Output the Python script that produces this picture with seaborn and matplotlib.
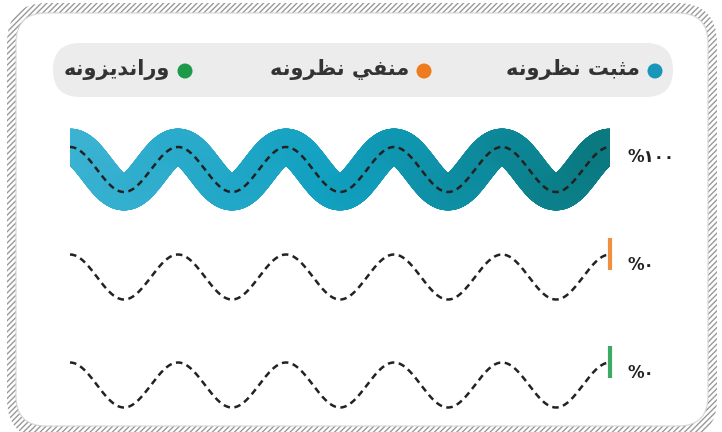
import seaborn as sns
import matplotlib.pyplot as plt
import numpy as np
from matplotlib.patches import FancyBboxPatch, Circle, Rectangle
from matplotlib.collections import LineCollection
from matplotlib.colors import LinearSegmentedColormap

# data
categories = ["مثبت نظرونه", "منفي نظرونه", "وراندیزونه"]
values = [100, 0, 0]
colors = ["#1796ba", "#ef7b1f", "#1c9a4a"]
band_colors = ["#3db3d3", "#11a0c0", "#0a7980"]

# minimal arabic shaping (matplotlib has no text shaping)
FORMS = {
    "ا": ("\uFE8D", "\uFE8E", None, None),
    "ب": ("\uFE8F", "\uFE90", "\uFE91", "\uFE92"),
    "ت": ("\uFE95", "\uFE96", "\uFE97", "\uFE98"),
    "ث": ("\uFE99", "\uFE9A", "\uFE9B", "\uFE9C"),
    "د": ("\uFEA9", "\uFEAA", None, None),
    "ر": ("\uFEAD", "\uFEAE", None, None),
    "ز": ("\uFEAF", "\uFEB0", None, None),
    "ظ": ("\uFEC5", "\uFEC6", "\uFEC7", "\uFEC8"),
    "ف": ("\uFED1", "\uFED2", "\uFED3", "\uFED4"),
    "م": ("\uFEE1", "\uFEE2", "\uFEE3", "\uFEE4"),
    "ن": ("\uFEE5", "\uFEE6", "\uFEE7", "\uFEE8"),
    "ه": ("\uFEE9", "\uFEEA", "\uFEEB", "\uFEEC"),
    "و": ("\uFEED", "\uFEEE", None, None),
    "ي": ("\uFEF1", "\uFEF2", "\uFEF3", "\uFEF4"),
    "ی": ("\uFBFC", "\uFBFD", "\uFBFE", "\uFBFF"),
}


def shape(text):
    out = []
    for i, ch in enumerate(text):
        if ch not in FORMS:
            out.append(ch)
            continue
        prev = text[i - 1] if i > 0 else ""
        nxt = text[i + 1] if i + 1 < len(text) else ""
        joins_prev = prev in FORMS and FORMS[prev][2] is not None
        joins_next = nxt in FORMS and FORMS[ch][2] is not None
        iso, fin, ini, med = FORMS[ch]
        if joins_prev and joins_next:
            out.append(med)
        elif joins_prev:
            out.append(fin)
        elif joins_next:
            out.append(ini)
        else:
            out.append(iso)
    return "".join(reversed(out))


def arabic_digits(n):
    return "".join(chr(0x0660 + int(d)) for d in str(n))


sns.set_theme(style="white")
plt.rcParams["font.family"] = ["DejaVu Sans"]

fig = plt.figure(figsize=(7.22, 4.32), dpi=100)
ax = fig.add_axes([0, 0, 1, 1])
ax.set_xlim(0, 722)
ax.set_ylim(432, 0)
ax.axis("off")

# frame with hatched border
outer = FancyBboxPatch((7, 3), 710, 436, boxstyle="round,pad=0,rounding_size=40",
                       facecolor="white", edgecolor="#9a9a9a", hatch="//////",
                       linewidth=0, zorder=0)
ax.add_patch(outer)
inner = FancyBboxPatch((16, 13), 692, 413, boxstyle="round,pad=0,rounding_size=30",
                       facecolor="white", edgecolor="#d6d6d6", linewidth=0.8, zorder=1)
ax.add_patch(inner)

# legend pill
pill = FancyBboxPatch((53, 43), 620, 54, boxstyle="round,pad=0,rounding_size=27",
                      facecolor="#ececec", edgecolor="none", zorder=2)
ax.add_patch(pill)
legend_x = [655, 424, 185]
for lx, cat, col in zip(legend_x, categories, colors):
    ax.add_patch(Circle((lx, 71), 7.5, facecolor=col, edgecolor="none", zorder=3))
    ax.text(lx - 15, 69, shape(cat), ha="right", va="center", fontsize=15,
            fontweight="bold", color="#333333", zorder=3)

# waves
x0, x1 = 70, 610
periods = 5
amp = 22.5
row_centers = [169.5, 277, 385]
xs = np.linspace(x0, x1, 1200)
k = 2 * np.pi * periods / (x1 - x0)
cmap = LinearSegmentedColormap.from_list("band", band_colors)

for yc, val, col in zip(row_centers, values, colors):
    ys = yc - amp * np.cos(k * (xs - x0))
    start = x1 - (x1 - x0) * val / 100

    if val == 0:
        # empty bar: small tick where the fill would start
        ax.plot([start, start], [yc - amp - 17, yc - amp + 15], color=col,
                lw=3, alpha=0.85, solid_capstyle="butt", zorder=4)
    else:
        pts = np.column_stack([xs, ys]).reshape(-1, 1, 2)
        segs = np.concatenate([pts[:-1], pts[1:]], axis=1)
        frac = (xs[:-1] - x0) / (x1 - x0)
        lc = LineCollection(segs, colors=cmap(frac), linewidths=26.5,
                            capstyle="round", zorder=5)
        ax.add_collection(lc)
        lc.set_clip_path(Rectangle((start, 0), x1 - start, 432,
                                   transform=ax.transData))

    sns.lineplot(x=xs, y=ys, ax=ax, color="#222222", linewidth=1.8,
                 linestyle=(0, (2.6, 1.8)), sort=False, zorder=6)

    ax.text(628, yc - 12, "%" + arabic_digits(val), ha="left", va="center",
            fontsize=12, fontweight="bold", color="#222222", zorder=6)

ax.set_xlim(0, 722)
ax.set_ylim(432, 0)
fig.savefig("out.png", dpi=100)
